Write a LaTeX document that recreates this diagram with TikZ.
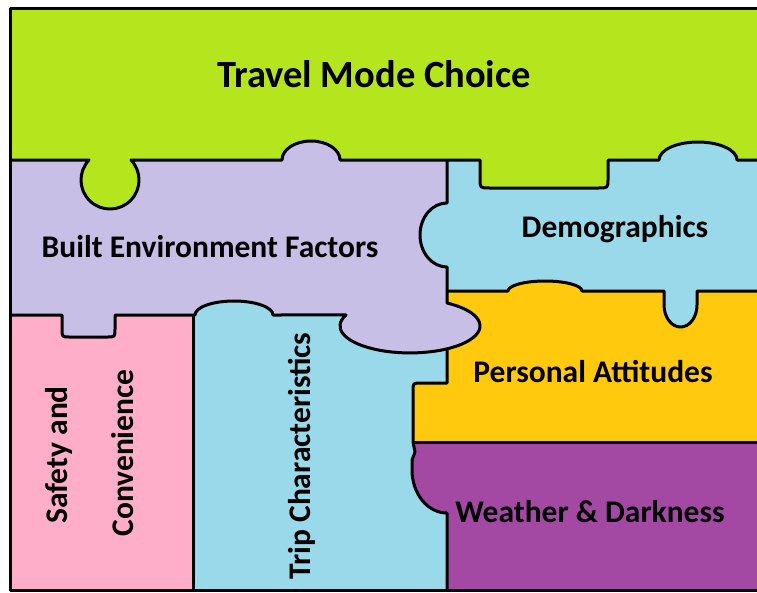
\documentclass[tikz,border=0pt]{standalone}
\usepackage{fontspec}
\setmainfont{Carlito}
\definecolor{cgreen}{RGB}{181,230,29}
\definecolor{clav}{RGB}{200,191,231}
\definecolor{cblue}{RGB}{153,217,234}
\definecolor{cpink}{RGB}{255,174,201}
\definecolor{cgold}{RGB}{255,201,14}
\definecolor{cpurp}{RGB}{163,73,164}
\newcommand\LineOne{-- (89,160) arc[start angle=223.6, end angle=-43.6, radius=29]
  -- (282,160) arc[start angle=180, end angle=360, x radius=29, y radius=19]
  -- (480,160) -- (480,179) .. controls (480,188) .. (490,188) -- (598,188) .. controls (608,188) .. (608,179) -- (608,160)
  -- (659,160) arc[start angle=180, end angle=360, x radius=39, y radius=18] -- (757,160)}
\newcommand\LineFive{-- (508,291) arc[start angle=180, end angle=360, x radius=37, y radius=10]
  -- (664,291) -- (664,305) arc[start angle=180, end angle=0, x radius=16.5, y radius=22] -- (697,291) -- (757,291)}
\begin{document}
\begin{tikzpicture}[x=1pt,y=-1pt, line join=round,
  lbl/.style={font=\fontsize{31.5}{37}\selectfont\bfseries, inner sep=0pt, anchor=base},
  edge/.style={draw=black, line width=3pt}]
\useasboundingbox (0,0) rectangle (757,592);
\begin{scope}
\clip (0,0) rectangle (757,592);
% lavender base
\fill[clav] (10,138) rectangle (447,316);
% light blue pieces
\fill[cblue] (447,138) rectangle (757,330);
\fill[cblue] (193,315) rectangle (447,590);
\fill[cblue] (234,315) ellipse[x radius=39, y radius=14];
\fill[cblue] (447,235) ellipse[x radius=27, y radius=32];
% green
\fill[cgreen] (10,8) -- (10,160) \LineOne -- (757,8) -- cycle;
% gold
\fill[cgold] (447,291) \LineFive -- (757,442) -- (413,442) -- (413,391) .. controls (413,383) .. (421,383) -- (447,383) -- cycle;
% purple
\fill[cpurp] (413,442) -- (757,442) -- (757,590) -- (447,590) -- (447,513)
  arc[start angle=90, end angle=180, x radius=35, y radius=43] -- (412,460) -- (415,452) -- cycle;
% pink
\fill[cpink] (10,315) rectangle (193,590);
% lavender blob and tab
\fill[clav] (410,326) ellipse[x radius=70, y radius=27];
\fill[clav] (62,314) -- (62,329) .. controls (62,337) .. (70,337) -- (107,337) .. controls (115,337) .. (115,329) -- (115,314) -- cycle;
% outlines
\draw[edge] (757,8) -- (10,8) -- (10,590) -- (757,590);
\draw[edge] (10,160) \LineOne;
\draw[edge] (447,160) -- (447,203) arc[start angle=270, end angle=90, x radius=27, y radius=32]
  -- (447,303) arc[start angle=301.9, end angle=564, x radius=70, y radius=27]
  -- (273,315) arc[start angle=360, end angle=180, x radius=39, y radius=14]
  -- (115,315) -- (115,329) .. controls (115,337) .. (107,337) -- (70,337) .. controls (62,337) .. (62,329) -- (62,315) -- (10,315);
\draw[edge] (193,315) -- (193,590);
\draw[edge] (447,349) -- (447,383) -- (421,383) .. controls (413,383) .. (413,391) -- (413,442)
  -- (415,452) -- (412,460) -- (412,470) arc[start angle=180, end angle=90, x radius=35, y radius=43] -- (447,590);
\draw[edge] (447,291) \LineFive;
\draw[edge] (413,442) -- (757,442);
\end{scope}
% labels
\node[lbl, font=\fontsize{38.5}{44}\selectfont\bfseries] (title) at (374,87) {Travel Mode Choice};
\node[lbl] (built) at (210,257) {Built Environment Factors};
\node[lbl] (demo) at (615,237) {Demographics};
\node[lbl] (attit) at (593,382) {Personal Attitudes};
\node[lbl] (weather) at (590,522) {Weather \& Darkness};
\node[lbl, rotate=90] (safety) at (67,455) {Safety and};
\node[lbl, rotate=90] (conv) at (133,453) {Convenience};
\node[lbl, rotate=90] (trip) at (310,456) {Trip Characteristics};
\end{tikzpicture}
\end{document}
